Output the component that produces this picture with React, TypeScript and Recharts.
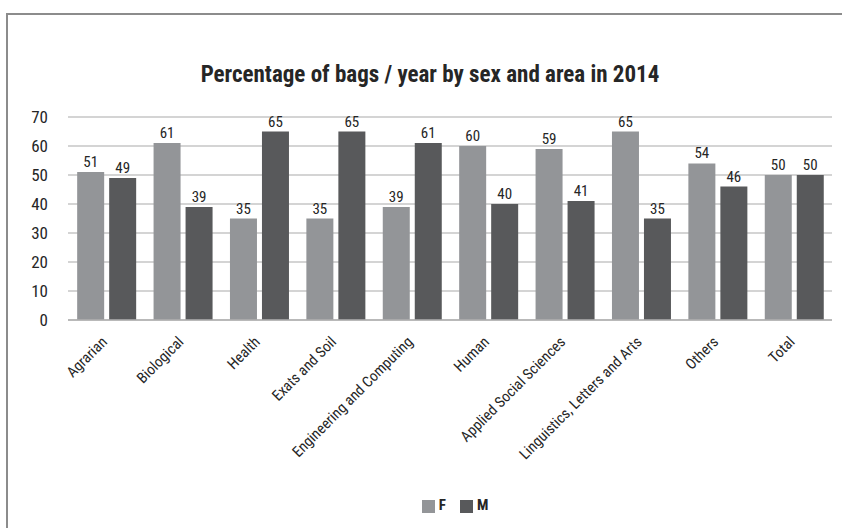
import React from 'react';
import { BarChart, Bar, XAxis, YAxis, CartesianGrid, Legend, LabelList } from 'recharts';

const areas = [
  'Agrarian',
  'Biological',
  'Health',
  'Exats and Soil',
  'Engineering and Computing',
  'Human',
  'Applied Social Sciences',
  'Linguistics, Letters and Arts',
  'Others',
  'Total',
];
const female = [51, 61, 35, 35, 39, 60, 59, 65, 54, 50];
const male = [49, 39, 65, 65, 61, 40, 41, 35, 46, 50];
const yTicks = [0, 10, 20, 30, 40, 50, 60, 70];

const data = areas.map((area, i) => ({ area, F: female[i], M: male[i] }));

const FONT = "'Roboto Condensed', 'DejaVu Sans Condensed', 'Liberation Sans Narrow', 'DejaVu Sans', sans-serif";
const cond = { fontStretch: 'condensed' } as React.CSSProperties;
const TEXT = '#262626';

// rotated category label, anchored at its end just under the tick
function AreaTick({ x, y, payload }: any) {
  return (
    <g transform={`translate(${x - 1},${y + 12}) rotate(-45)`}>
      <text x={0} y={0} dy={4} textAnchor="end" fill={TEXT} fontSize={15} fontFamily={FONT} style={cond}>
        {payload.value}
      </text>
    </g>
  );
}

export default function App() {
  return (
    <div
      style={{
        position: 'fixed',
        left: 0,
        top: 0,
        width: 842,
        height: 528,
        background: '#fff',
        overflow: 'hidden',
        fontFamily: FONT,
        fontStretch: 'condensed',
      }}
    >
      <div
        style={{
          position: 'absolute',
          left: 6,
          top: 13,
          width: 900,
          height: 600,
          border: '2px solid #8c8c8c',
        }}
      />
      <div
        style={{
          position: 'absolute',
          top: 61,
          left: 0,
          width: 860,
          textAlign: 'center',
          fontSize: 23,
          fontWeight: 'bold',
          color: TEXT,
        }}
      >
        Percentage of bags / year by sex and area in 2014
      </div>
      <BarChart
        width={842}
        height={528}
        data={data}
        margin={{ top: 117, right: 10, left: 20, bottom: 14 }}
        barGap={5}
        barCategoryGap="12%"
        style={{ position: 'absolute', left: 0, top: 0 }}
      >
        <CartesianGrid vertical={false} stroke="#c6c6c6" strokeWidth={1.5} />
        <YAxis
          width={48}
          domain={[0, 70]}
          ticks={yTicks}
          axisLine={false}
          tickLine={false}
          tickSize={0}
          tickMargin={20}
          tick={{ fill: TEXT, fontSize: 17, fontFamily: FONT, style: cond }}
        />
        <XAxis
          dataKey="area"
          height={176}
          interval={0}
          axisLine={{ stroke: '#b0b0b0', strokeWidth: 1.5 }}
          tickLine={false}
          tick={<AreaTick />}
        />
        <Legend
          verticalAlign="bottom"
          iconType="square"
          iconSize={13}
          wrapperStyle={{ left: 62, width: 800, fontSize: 15, fontWeight: 'bold', fontFamily: FONT }}
          formatter={(v: string) => <span style={{ color: TEXT, marginRight: 4 }}>{v}</span>}
        />
        <Bar dataKey="F" fill="#939598" isAnimationActive={false}>
          <LabelList dataKey="F" position="top" fill={TEXT} fontSize={15} fontFamily={FONT} style={cond} />
        </Bar>
        <Bar dataKey="M" fill="#58595b" isAnimationActive={false}>
          <LabelList dataKey="M" position="top" fill={TEXT} fontSize={15} fontFamily={FONT} style={cond} />
        </Bar>
      </BarChart>
    </div>
  );
}
